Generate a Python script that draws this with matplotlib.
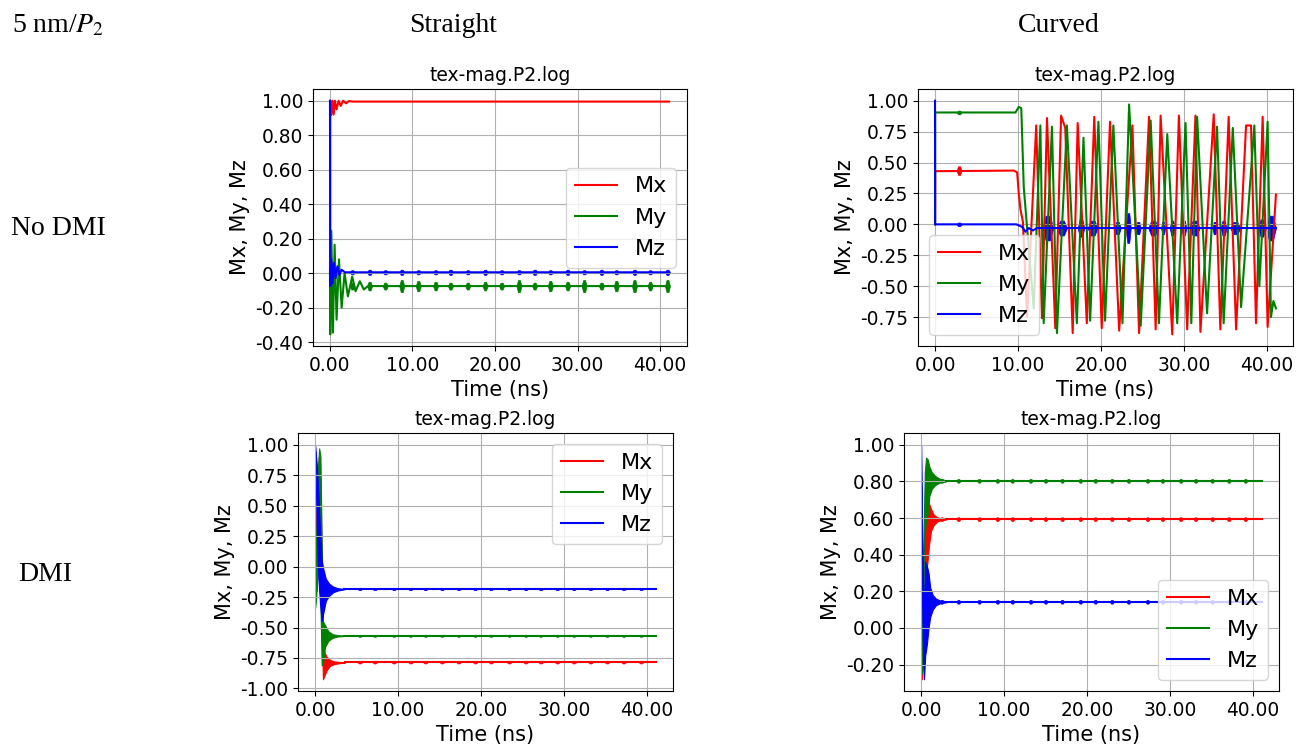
import numpy as np
import matplotlib.pyplot as plt
from matplotlib.ticker import FormatStrFormatter

plt.rcParams['mathtext.fontset'] = 'stix'

# ---- data (time in ns, magnetisation components) ----
# straight, no DMI
s0_mx_t = [0.0, 0.03, 0.15, 0.3, 0.45, 0.6, 0.8, 1.05, 1.3, 1.6, 1.95, 2.3, 2.8, 41.1]
s0_mx_v = [0.0, 1.0, 0.917, 1.0, 0.92, 1.0, 0.95, 1.0, 0.97, 1.0, 0.985, 0.998, 0.995, 0.995]
s0_my_t = [0.0, 0.03, 0.16, 0.36, 0.56, 0.8, 1.09, 1.41, 1.77, 2.17, 2.69, 3.1, 3.62, 4.1, 4.6, 41.1]
s0_my_v = [0.0, -0.355, 0.245, -0.345, 0.165, -0.27, 0.08, -0.2, 0.0, -0.135, -0.02, -0.105,
           -0.047, -0.095, -0.075, -0.075]
s0_mz_t = [0.0, 0.04, 0.16, 0.32, 0.48, 0.68, 0.9, 1.15, 1.4, 1.8, 41.1]
s0_mz_v = [1.0, -0.075, 0.08, -0.06, 0.06, -0.03, 0.04, -0.01, 0.02, 0.005, 0.005]
s0_bead_t = [2.7, 4.8, 6.7, 8.7, 10.7, 12.8, 14.6, 16.7, 18.8, 20.8, 22.9, 24.8, 26.7, 28.8,
             30.8, 32.9, 34.7, 36.9, 38.8, 40.9]
s0_my_bead_h = [0.02, 0.025, 0.02, 0.035, 0.03, 0.025, 0.02, 0.02, 0.025, 0.02, 0.035, 0.02,
                0.03, 0.025, 0.035, 0.02, 0.03, 0.035, 0.025, 0.035]
s0_mz_bead_h = [0.012, 0.015, 0.012, 0.015, 0.012, 0.012, 0.015, 0.012, 0.015, 0.012, 0.012,
                0.015, 0.012, 0.015, 0.012, 0.015, 0.012, 0.015, 0.012, 0.015]

# curved, no DMI
c0_mx_t = [0.0, 0.02, 9.5, 9.9, 10.1, 10.3, 10.6, 11.1, 12.2, 12.9, 13.5, 14.5, 15.2, 15.7,
           16.6, 17.2, 18.3, 19.2, 20.1, 21.1, 22.2, 23.8, 24.6, 25.8, 26.6, 27.2, 28.6, 29.4,
           30.4, 31.4, 32.0, 33.6, 34.4, 35.4, 36.3, 37.5, 38.1, 38.7, 39.5, 40.1, 40.6, 41.1]
c0_mx_v = [0.0, 0.43, 0.435, 0.42, 0.25, 0.12, 0.02, -0.75, 0.80, -0.76, 0.86, -0.84, 0.88,
           0.78, -0.88, 0.82, -0.80, 0.87, -0.84, 0.83, -0.86, 0.80, -0.88, 0.87, -0.85, 0.88,
           -0.89, 0.88, -0.85, 0.88, -0.87, 0.89, -0.85, 0.87, -0.85, 0.80, 0.80, -0.80, 0.87,
           -0.83, -0.30, 0.24]
c0_my_t = [0.0, 0.02, 9.7, 10.1, 10.4, 10.7, 11.9, 12.7, 13.1, 14.1, 14.7, 15.9, 17.1, 17.9,
           18.7, 19.7, 20.5, 21.5, 22.6, 23.4, 24.8, 26.0, 27.0, 28.0, 29.2, 30.2, 30.9, 31.6,
           32.8, 34.0, 34.8, 35.9, 36.9, 38.5, 39.1, 40.1, 40.5, 40.8, 41.1]
c0_my_v = [0.0, 0.905, 0.905, 0.95, 0.94, 0.3, -0.68, 0.80, -0.80, 0.79, -0.88, 0.80, -0.80,
           0.70, -0.78, 0.83, -0.78, 0.80, -0.80, 0.97, -0.82, 0.84, -0.80, 0.73, -0.80, 0.82,
           -0.80, 0.87, -0.72, 0.79, -0.80, 0.78, -0.67, 0.80, -0.50, 0.83, -0.75, -0.62, -0.68]
c0_mz_t = [0.0, 0.02, 9.8, 10.5, 10.9, 11.3, 11.8, 12.3, 41.1]
c0_mz_v = [1.0, 0.0, 0.0, -0.02, -0.06, -0.03, -0.05, -0.03, -0.03]
# bursts of noise on Mz: centre, half duration, half height
c0_burst_t = [13.6, 15.3, 17.6, 19.0, 22.0, 23.3, 24.5, 26.3, 27.5, 28.6, 30.0, 31.3, 33.7,
              34.8, 36.2, 39.4, 40.5]
c0_burst_w = [0.65, 0.6, 0.4, 0.6, 0.4, 0.3, 0.3, 0.6, 0.25, 0.3, 0.3, 0.6, 0.25, 0.35, 0.6,
              0.4, 0.6]
c0_burst_h = [0.1, 0.06, 0.07, 0.06, 0.05, 0.12, 0.05, 0.06, 0.05, 0.06, 0.06, 0.06, 0.05,
              0.06, 0.05, 0.07, 0.1]

# straight, DMI  (transient given as envelope lo/hi, then steady value)
s1_mx_env_t = [0.0, 0.2, 0.45, 0.65, 0.8, 0.95, 1.1, 1.4, 1.8, 2.3, 3.0, 3.6]
s1_mx_env_hi = [0.12, 0.5, 0.9, 0.7, 0.1, -0.55, -0.7, -0.74, -0.765, -0.778, -0.783, -0.785]
s1_mx_env_lo = [0.0, -0.2, 0.25, 0.0, -0.5, -0.925, -0.9, -0.85, -0.815, -0.8, -0.792, -0.789]
s1_my_env_t = [0.0, 0.15, 0.35, 0.5, 0.65, 0.8, 0.95, 1.2, 1.6, 2.1, 2.8, 3.5]
s1_my_env_hi = [-0.3, 0.3, 0.8, 0.97, 0.9, 0.2, -0.45, -0.48, -0.53, -0.555, -0.563, -0.566]
s1_my_env_lo = [-0.34, -0.25, 0.2, 0.35, -0.3, -0.81, -0.8, -0.66, -0.61, -0.585, -0.573, -0.570]
s1_mz_env_t = [0.0, 0.2, 0.4, 0.6, 0.8, 1.0, 1.3, 1.7, 2.2, 2.8, 3.5]
s1_mz_env_hi = [1.0, 0.85, 0.6, 0.3, 0.05, -0.02, -0.1, -0.14, -0.165, -0.178, -0.183]
s1_mz_env_lo = [0.95, 0.35, -0.1, -0.3, -0.45, -0.38, -0.28, -0.24, -0.21, -0.195, -0.187]
s1_steady = [-0.787, -0.568, -0.185]
s1_bead_t = [5.4, 7.2, 9.5, 11.5, 13.3, 15.3, 17.3, 19.3, 21.2, 23.4, 25.4, 27.2, 29.2, 31.2,
             33.2, 35.2, 37.2, 39.3]

# curved, DMI
c1_mx_env_t = [0.0, 0.1, 0.25, 0.4, 0.55, 0.75, 0.95, 1.2, 1.5, 1.9, 2.4, 3.0]
c1_mx_env_hi = [0.0, 0.17, 0.3, 0.45, 0.55, 0.62, 0.68, 0.65, 0.62, 0.605, 0.598, 0.596]
c1_mx_env_lo = [0.0, -0.28, -0.1, 0.1, 0.3, 0.35, 0.45, 0.53, 0.56, 0.58, 0.588, 0.592]
c1_my_env_t = [0.0, 0.1, 0.3, 0.45, 0.6, 0.8, 1.0, 1.3, 1.7, 2.2, 3.0]
c1_my_env_hi = [0.0, 0.1, 0.5, 0.85, 0.93, 0.92, 0.88, 0.85, 0.83, 0.815, 0.806]
c1_my_env_lo = [0.0, -0.25, 0.0, 0.5, 0.6, 0.62, 0.72, 0.76, 0.78, 0.793, 0.800]
c1_mz_env_t = [0.0, 0.1, 0.25, 0.35, 0.5, 0.7, 0.9, 1.1, 1.4, 1.8, 2.3, 3.0]
c1_mz_env_hi = [1.0, 0.6, 0.2, 0.1, 0.36, 0.34, 0.3, 0.22, 0.18, 0.16, 0.15, 0.146]
c1_mz_env_lo = [0.95, 0.2, -0.2, -0.28, -0.15, -0.09, 0.0, 0.06, 0.1, 0.125, 0.135, 0.140]
c1_steady = [0.594, 0.803, 0.143]
c1_bead_t = [2.5, 4.5, 7.0, 9.2, 11.0, 13.2, 15.0, 17.0, 19.2, 21.0, 23.0, 25.0, 27.3, 29.1,
             31.3, 33.1, 35.1, 37.1, 39.1]

t_end = 41.1
labels = ['Mx', 'My', 'Mz']
colors = ['r', 'g', 'b']


def blobs(ax, tc, level, half_w, half_h, color):
    # small spindle-shaped noise bursts on a flat line
    if np.isscalar(half_w):
        half_w = [half_w] * len(tc)
    if np.isscalar(half_h):
        half_h = [half_h] * len(tc)
    for t, w, h in zip(tc, half_w, half_h):
        xs = [t - w, t - 0.4 * w, t + 0.4 * w, t + w]
        ax.fill_between(xs, [level, level - h, level - h, level],
                        [level, level + h, level + h, level], color=color, lw=0.5)


def setup(ax, yticks, loc):
    ax.set_title('tex-mag.P2.log', fontsize=13.5)
    ax.set_xlabel('Time (ns)', fontsize=15)
    ax.set_ylabel('Mx, My, Mz', fontsize=15)
    ax.set_xticks([0, 10, 20, 30, 40])
    ax.set_yticks(yticks)
    ax.xaxis.set_major_formatter(FormatStrFormatter('%.2f'))
    ax.yaxis.set_major_formatter(FormatStrFormatter('%.2f'))
    ax.tick_params(labelsize=13.4)
    ax.grid(True)
    ax.legend(loc=loc, fontsize=16, handlelength=1.9)


fig = plt.figure(figsize=(13.03, 7.44), dpi=100)

# --- straight / no DMI ---
ax1 = fig.add_axes([0.2402, 0.5349, 0.2870, 0.3454])
ax1.plot(s0_mx_t, s0_mx_v, color='r', label='Mx')
ax1.plot(s0_my_t, s0_my_v, color='g', label='My')
ax1.plot(s0_mz_t, s0_mz_v, color='b', label='Mz')
blobs(ax1, s0_bead_t, s0_my_v[-1], 0.3, s0_my_bead_h, 'g')
blobs(ax1, s0_bead_t, s0_mz_v[-1], 0.3, s0_mz_bead_h, 'b')
setup(ax1, np.arange(-0.4, 1.01, 0.2), 'center right')

# --- curved / no DMI ---
ax2 = fig.add_axes([0.7045, 0.5349, 0.2878, 0.3454])
ax2.plot(c0_mx_t, c0_mx_v, color='r', label='Mx')
ax2.plot(c0_my_t, c0_my_v, color='g', label='My')
ax2.plot(c0_mz_t, c0_mz_v, color='b', label='Mz')
blobs(ax2, [2.9], c0_mx_v[2], 0.3, 0.035, 'r')
blobs(ax2, [2.9], c0_my_v[2], 0.3, 0.015, 'g')
blobs(ax2, [2.9], c0_mz_v[2], 0.3, 0.015, 'b')
blobs(ax2, c0_burst_t, c0_mz_v[-1], c0_burst_w, c0_burst_h, 'b')
setup(ax2, np.arange(-0.75, 1.01, 0.25), 'lower left')

# --- straight / DMI ---
ax3 = fig.add_axes([0.2287, 0.0712, 0.2878, 0.3468])
envs = [(s1_mx_env_t, s1_mx_env_lo, s1_mx_env_hi),
        (s1_my_env_t, s1_my_env_lo, s1_my_env_hi),
        (s1_mz_env_t, s1_mz_env_lo, s1_mz_env_hi)]
for (et, lo, hi), lvl, c, lab in zip(envs, s1_steady, colors, labels):
    ax3.fill_between(et, lo, hi, color=c, lw=0.8)
    ax3.plot([et[-1], t_end], [lvl, lvl], color=c, label=lab)
    blobs(ax3, s1_bead_t, lvl, 0.25, 0.008, c)
setup(ax3, np.arange(-1.0, 1.01, 0.25), 'upper right')

# --- curved / DMI ---
ax4 = fig.add_axes([0.6938, 0.0712, 0.2878, 0.3468])
envs = [(c1_mx_env_t, c1_mx_env_lo, c1_mx_env_hi),
        (c1_my_env_t, c1_my_env_lo, c1_my_env_hi),
        (c1_mz_env_t, c1_mz_env_lo, c1_mz_env_hi)]
for (et, lo, hi), lvl, c, lab in zip(envs, c1_steady, colors, labels):
    ax4.fill_between(et, lo, hi, color=c, lw=0.8)
    ax4.plot([et[-1], t_end], [lvl, lvl], color=c, label=lab)
    blobs(ax4, c1_bead_t, lvl, 0.25, 0.01, c)
setup(ax4, np.arange(-0.2, 1.01, 0.2), 'lower right')

# row / column headings (baseline positions)
serif = dict(family='Liberation Serif', fontsize=20, va='baseline')
fig.text(12 / 1303, 1 - 32 / 744, '5 nm/$P_2$', ha='left', **serif)
fig.text(453 / 1303, 1 - 32 / 744, 'Straight', ha='center', **serif)
fig.text(1059 / 1303, 1 - 32 / 744, 'Curved', ha='center', **serif)
fig.text(11 / 1303, 1 - 235 / 744, 'No DMI', ha='left', **serif)
fig.text(18 / 1303, 1 - 581 / 744, 'DMI', ha='left', **serif)

fig.savefig('out.png', dpi=100)
